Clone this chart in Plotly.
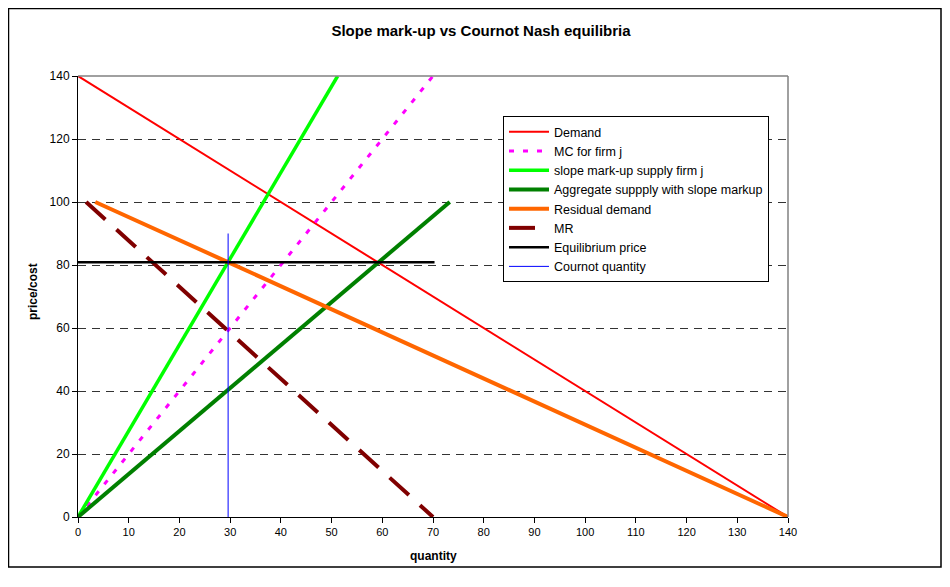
import plotly.graph_objects as go

# ---- data ----
demand_q = [0, 70, 140]
demand_p = [140, 70, 0]

mc_q = [0, 70]
mc_p = [0, 140]

markup_q = [0, 51.2]
markup_p = [0, 140]

agg_q = [0, 73.3]
agg_p = [0, 100]

resid_q = [3.4, 30, 140]
resid_p = [100, 80.6, 0]

mr_q = [1.6, 70]
mr_p = [100, 0]

eq_q = [0, 70.3]
eq_p = [80.9, 80.9]

cournot_q = [29.6, 29.6]
cournot_p = [0, 90]

y_ticks = [0, 20, 40, 60, 80, 100, 120, 140]
x_ticks = list(range(0, 150, 10))

FONT = "Liberation Sans, Arial, sans-serif"

fig = go.Figure()
fig.add_trace(go.Scatter(x=demand_q, y=demand_p, mode="lines", name="Demand",
                         line=dict(color="#FF0000", width=2)))
fig.add_trace(go.Scatter(x=mc_q, y=mc_p, mode="lines", name="MC for firm j",
                         line=dict(color="#FF00FF", width=3, dash="5px,9px")))
fig.add_trace(go.Scatter(x=markup_q, y=markup_p, mode="lines", name="slope mark-up supply firm j",
                         line=dict(color="#00FF00", width=3.5)))
fig.add_trace(go.Scatter(x=agg_q, y=agg_p, mode="lines", name="Aggregate suppply with slope markup",
                         line=dict(color="#008000", width=4)))
fig.add_trace(go.Scatter(x=resid_q, y=resid_p, mode="lines", name="Residual demand",
                         line=dict(color="#FF6600", width=4)))
fig.add_trace(go.Scatter(x=mr_q, y=mr_p, mode="lines", name="MR",
                         line=dict(color="#800000", width=4, dash="26px,15px")))
fig.add_trace(go.Scatter(x=eq_q, y=eq_p, mode="lines", name="Equilibrium price",
                         line=dict(color="#000000", width=2.5)))
fig.add_trace(go.Scatter(x=cournot_q, y=cournot_p, mode="lines", name="Cournot quantity",
                         line=dict(color="#0000FF", width=1)))

# page offset (default body margin of the html page)
OFF = 8
W, H = 950, 587
# plot area in page pixels
PX0, PX1, PY0, PY1 = 78, 788, 76, 517
L = PX0 - OFF
T = PY0 - OFF
R = W - (PX1 - OFF)
B = H - (PY1 - OFF)
pw, ph = PX1 - PX0, PY1 - PY0

def px_x(p):
    return (p - PX0) / pw

def px_y(p):
    return (PY1 - p) / ph

fig.update_layout(
    width=W, height=H, autosize=False,
    margin=dict(l=L, r=R, t=T, b=B, autoexpand=False),
    paper_bgcolor="white", plot_bgcolor="white",
    font=dict(family=FONT, size=11, color="#000000"),
    title=dict(text="<b>Slope mark-up vs Cournot Nash equilibria</b>",
               x=(481 - OFF) / W, xanchor="center", y=1 - (31 - OFF) / H, yanchor="middle",
               font=dict(family=FONT, size=15, color="#000000")),
    showlegend=True,
    legend=dict(x=px_x(503), y=px_y(116), xanchor="left", yanchor="top",
                bgcolor="white", bordercolor="#000000", borderwidth=1,
                font=dict(family=FONT, size=12.5, color="#000000"),
                tracegroupgap=0, itemwidth=40),
    xaxis=dict(range=[0, 140], tickvals=x_ticks, showgrid=False, zeroline=False,
               showline=True, linecolor="#000000", linewidth=1,
               ticks="outside", ticklen=5, tickcolor="#000000",
               tickfont=dict(family=FONT, size=11, color="#000000")),
    yaxis=dict(range=[0, 140], tickvals=y_ticks, showgrid=True, gridcolor="#333333",
               gridwidth=1, griddash="8px,6px", zeroline=False,
               showline=True, linecolor="#000000", linewidth=1,
               ticks="outside", ticklen=5, tickcolor="#000000",
               tickfont=dict(family=FONT, size=12, color="#000000")),
    shapes=[
        dict(type="line", xref="paper", yref="paper", x0=0, x1=1, y0=1, y1=1,
             line=dict(color="#808080", width=1.5), layer="above"),
        dict(type="line", xref="paper", yref="paper", x0=1, x1=1, y0=0, y1=1,
             line=dict(color="#808080", width=1.5), layer="above"),
        dict(type="rect", xref="paper", yref="paper",
             x0=px_x(8.5), x1=px_x(941), y0=px_y(567), y1=px_y(OFF + 0.5),
             line=dict(color="#000000", width=1.5), layer="below"),
    ],
    annotations=[
        dict(text="<b>quantity</b>", xref="paper", yref="paper", x=0.5, y=px_y(556),
             xanchor="center", yanchor="middle", showarrow=False,
             font=dict(family=FONT, size=12, color="#000000")),
        dict(text="<b>price/cost</b>", xref="paper", yref="paper", x=px_x(33), y=px_y(292),
             xanchor="center", yanchor="middle", showarrow=False, textangle=-90,
             font=dict(family=FONT, size=12, color="#000000")),
    ],
)

fig.write_html("out.html")
